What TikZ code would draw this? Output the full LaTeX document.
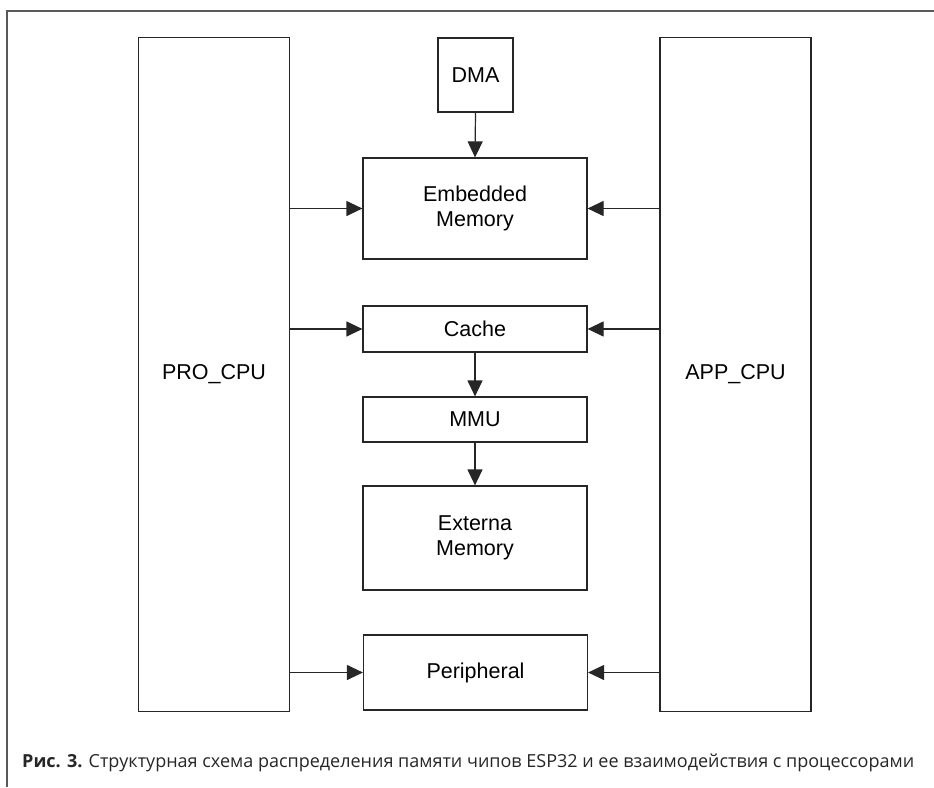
\documentclass[tikz,border=0pt]{standalone}
\usepackage{fontspec}
\setmainfont{Liberation Sans}
\newfontfamily\capfont{Open Sans}
\usetikzlibrary{arrows.meta}
\begin{document}
\begin{tikzpicture}[x=1pt,y=-1pt,
  blk/.style={draw=black!85,line width=1.2pt,inner sep=0pt,
    font=\fontsize{21.5}{25}\selectfont,align=center},
  link/.style={draw=black!85,line width=1.2pt,
    -{Triangle[length=16pt,width=15pt]}}]
\useasboundingbox (0,0) rectangle (934,787);
% open frame: top and left rules
\draw[black!65,line width=1.5pt] (7,787) -- (7,11) -- (934,11);
% processors
\node[blk,minimum width=151pt,minimum height=674pt] (pro) at (214,374.5) {PRO\_CPU};
\node[blk,minimum width=151pt,minimum height=674pt] (app) at (735.5,374.5) {APP\_CPU};
% memory path
\node[blk,minimum width=75pt,minimum height=74pt] (dma) at (475.5,75) {DMA};
\node[blk,minimum width=224pt,minimum height=101pt] (emb) at (475,208.5) {Embedded\\Memory};
\node[blk,minimum width=224pt,minimum height=46pt] (cache) at (475,329) {Cache};
\node[blk,minimum width=224pt,minimum height=45pt] (mmu) at (475,419.5) {MMU};
\node[blk,minimum width=224pt,minimum height=104pt] (ext) at (475,538) {Externa\\Memory};
\node[blk,minimum width=224pt,minimum height=75pt] (per) at (475.5,672.5) {Peripheral};
% vertical links
\draw[link] (dma.south) -- (emb.north);
\draw[link] (cache.south) -- (mmu.north);
\draw[link] (mmu.south) -- (ext.north);
% links from the processors
\foreach \t in {emb,cache,per}{
  \draw[link] (pro.east |- \t.west) -- (\t.west);
  \draw[link] (app.west |- \t.east) -- (\t.east);
}
% caption
\node[anchor=base west,inner sep=0pt,font=\capfont\fontsize{18}{22}\selectfont,text=black!85] (cap) at (22,767)
  {\textbf{Рис. 3.} Структурная схема распределения памяти чипов ESP32 и ее взаимодействия с процессорами};
\end{tikzpicture}
\end{document}
